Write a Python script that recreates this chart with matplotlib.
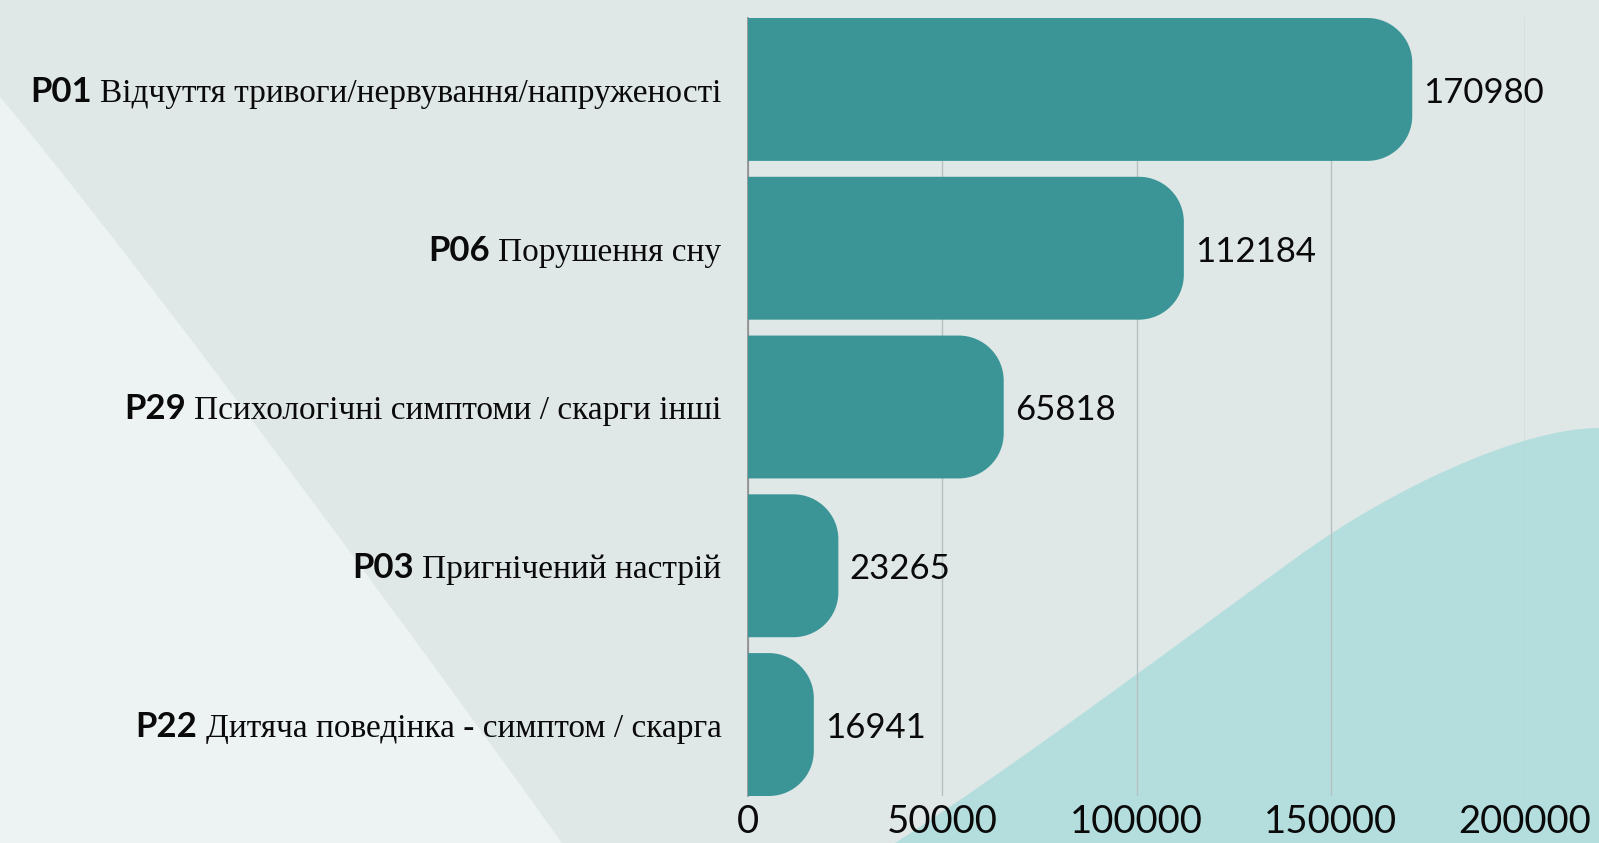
import matplotlib
matplotlib.use('Agg')
import matplotlib.pyplot as plt
from matplotlib.path import Path
from matplotlib.patches import PathPatch
from matplotlib.offsetbox import TextArea, HPacker, AnnotationBbox
from matplotlib.transforms import Affine2D

# дані
codes = ['P01', 'P06', 'P29', 'P03', 'P22']
names = ['Відчуття тривоги/нервування/напруженості',
         'Порушення сну',
         'Психологічні симптоми / скарги інші',
         'Пригнічений настрій',
         'Дитяча поведінка - симптом / скарга']
values = [170980, 112184, 65818, 23265, 16941]
xticks = [0, 50000, 100000, 150000, 200000]

W, H = 1599, 843
bg = '#e0e8e7'
bg_light = '#edf2f2'
bg_teal = '#b4dedd'
bar_col = '#3b9597'
sans = 'Lato'
serif = 'Liberation Serif'

fig = plt.figure(figsize=(W / 100, H / 100), dpi=100)
fig.patch.set_facecolor(bg)

# фонові фігури (в пікселях, y вниз)
px = Affine2D().scale(1 / W, -1 / H).translate(0, 1) + fig.transFigure
C4 = Path.CURVE4
left = Path([(0, 97), (100, 215), (330, 520), (562, 843), (0, 843), (0, 97)],
            [Path.MOVETO, C4, C4, C4, Path.LINETO, Path.CLOSEPOLY])
fig.patches.append(PathPatch(left, transform=px, facecolor=bg_light,
                             edgecolor='none', zorder=-2))
right = Path([(895, 843), (1010, 770), (1210, 620), (1300, 555),
              (1390, 490), (1520, 428), (1599, 428),
              (1599, 843), (895, 843)],
             [Path.MOVETO, C4, C4, C4, C4, C4, C4,
              Path.LINETO, Path.CLOSEPOLY])
fig.patches.append(PathPatch(right, transform=px, facecolor=bg_teal,
                             edgecolor='none', zorder=-1))

ax = fig.add_axes([748 / W, 1 - 796 / H, (1525 - 748) / W, (796 - 18) / H])
ax.set_facecolor('none')
n = len(values)
ax.set_xlim(0, 200000)
ax.set_ylim(n - 1 + 0.45, -0.45)

# заокруглені смуги
h = 0.45
rx0 = 45 * 200000 / 777
ry = 45 / 158.8
kk = 0.5523
for i, v in enumerate(values):
    rx = min(rx0, v)
    top, bot = i - h, i + h
    verts = [(0, top), (v - rx, top),
             (v - rx + kk * rx, top), (v, top + ry - kk * ry), (v, top + ry),
             (v, bot - ry),
             (v, bot - ry + kk * ry), (v - rx + kk * rx, bot), (v - rx, bot),
             (0, bot), (0, top)]
    codes_p = [Path.MOVETO, Path.LINETO, C4, C4, C4, Path.LINETO,
               C4, C4, C4, Path.LINETO, Path.CLOSEPOLY]
    ax.add_patch(PathPatch(Path(verts, codes_p), facecolor=bar_col,
                           edgecolor='none', zorder=3))
    ax.annotate(str(v), (v, i), xytext=(8, -2.5), textcoords='offset points',
                va='center', ha='left', fontsize=25, family=sans,
                color='#0a0a0a', zorder=4)

ax.set_xticks(xticks)
ax.set_xticklabels([str(x) for x in xticks], fontsize=27.5, family=sans,
                   color='#0a0a0a')
ax.tick_params(axis='x', length=0, pad=6)
ax.set_yticks([])
ax.grid(axis='x', color='#b5c1c0', linewidth=1, zorder=0)
for s in ['top', 'right', 'bottom']:
    ax.spines[s].set_visible(False)
ax.spines['left'].set_color('#8c8c8c')
ax.spines['left'].set_linewidth(1.2)
ax.spines['left'].set_zorder(2)

# підписи категорій: код (sans) + назва (serif)
for i, (c, nm) in enumerate(zip(codes, names)):
    box = HPacker(children=[
        TextArea(c, textprops=dict(family=sans, fontweight='bold',
                                   fontsize=25, color='#0a0a0a')),
        TextArea(nm, textprops=dict(family=serif, fontsize=24,
                                    color='#0a0a0a'))],
        align='baseline', pad=0, sep=6)
    ab = AnnotationBbox(box, (0, i), xybox=(-19, -2), xycoords='data',
                        boxcoords='offset points', box_alignment=(1, 0.5),
                        frameon=False, annotation_clip=False)
    ax.add_artist(ab)

fig.savefig('out.png', dpi=100, facecolor=bg)
